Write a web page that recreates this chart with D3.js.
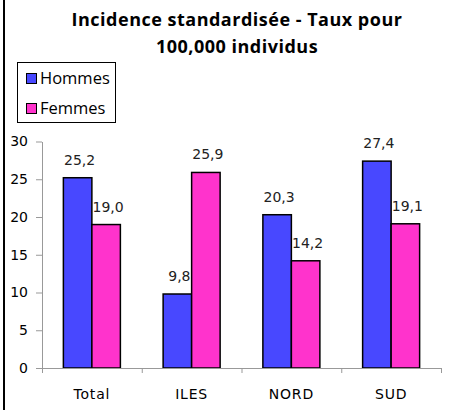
<!DOCTYPE html>
<html>
<head>
<meta charset="utf-8">
<script src="https://cdn.jsdelivr.net/npm/d3@7"></script>
<style>
  body { margin: 0; background: #fff; }
  svg { display: block; }
</style>
</head>
<body>
<div id="wrapper"></div>
<script>
// data
const categories = ["Total", "ILES", "NORD", "SUD"];
const seriesNames = ["Hommes", "Femmes"];
const hommes = [25.2, 9.8, 20.3, 27.4];
const femmes = [19.0, 25.9, 14.2, 19.1];
const yTicks = [0, 5, 10, 15, 20, 25, 30];
const titleLines = ["Incidence standardisée - Taux pour", "100,000 individus"];

const colors = { Hommes: "#4848ff", Femmes: "#ff33cc" };

const dimensions = {
  width: 453,
  height: 410,
  plotLeft: 42,
  plotRight: 441,
  plotTop: 141.5,
  plotBottom: 368,
};

const svg = d3.select("#wrapper").append("svg")
  .attr("width", dimensions.width)
  .attr("height", dimensions.height);

// left frame edge
svg.append("line")
  .attr("x1", 4).attr("x2", 4)
  .attr("y1", 0).attr("y2", dimensions.height)
  .attr("stroke", "#000").attr("stroke-width", 2);

// title
svg.append("g").selectAll("text")
  .data(titleLines)
  .join("text")
  .attr("x", 237)
  .attr("y", (d, i) => 26 + i * 27)
  .attr("text-anchor", "middle")
  .attr("font-family", "'Open Sans', sans-serif")
  .attr("font-weight", "bold")
  .attr("font-size", 18)
  .attr("letter-spacing", 0.5)
  .attr("fill", "#000")
  .text(d => d);

// scales
const xScale = d3.scaleBand()
  .domain(categories)
  .range([dimensions.plotLeft, dimensions.plotRight])
  .padding(0);

const xSub = d3.scaleBand()
  .domain(seriesNames)
  .range([0, xScale.bandwidth()])
  .paddingInner(0)
  .paddingOuter(0.75);

const yScale = d3.scaleLinear()
  .domain([0, 30])
  .range([dimensions.plotBottom, dimensions.plotTop]);

// y axis
const yAxis = svg.append("g")
  .attr("transform", `translate(${dimensions.plotLeft},0)`)
  .call(d3.axisLeft(yScale).tickValues(yTicks).tickSize(6).tickSizeOuter(0).tickPadding(8));
yAxis.select(".domain").attr("stroke", "#999");
yAxis.selectAll(".tick line").attr("stroke", "#999");
yAxis.selectAll(".tick text")
  .attr("font-family", "'DejaVu Sans', sans-serif")
  .attr("font-size", 14)
  .attr("fill", "#000");

// bars
const rows = categories.map((c, i) => ({ category: c, Hommes: hommes[i], Femmes: femmes[i] }));

const groups = svg.append("g").selectAll("g")
  .data(rows)
  .join("g")
  .attr("transform", d => `translate(${xScale(d.category)},0)`);

groups.selectAll("rect")
  .data(d => seriesNames.map(s => ({ key: s, value: d[s] })))
  .join("rect")
  .attr("x", d => xSub(d.key))
  .attr("y", d => yScale(d.value))
  .attr("width", xSub.bandwidth())
  .attr("height", d => yScale(0) - yScale(d.value))
  .attr("fill", d => colors[d.key])
  .attr("stroke", "#000")
  .attr("stroke-width", 1.5);

groups.selectAll("text")
  .data(d => seriesNames.map(s => ({ key: s, value: d[s] })))
  .join("text")
  .attr("x", d => xSub(d.key) + xSub.bandwidth() / 2 + 2)
  .attr("y", d => yScale(d.value) - 13)
  .attr("text-anchor", "middle")
  .attr("font-family", "'DejaVu Sans', sans-serif")
  .attr("font-size", 14)
  .attr("fill", "#222")
  .text(d => d3.format(".1f")(d.value).replace(".", ","));

// x axis with ticks at category boundaries
const xEdges = d3.scaleLinear()
  .domain([0, categories.length])
  .range([dimensions.plotLeft, dimensions.plotRight]);
const xAxis = svg.append("g")
  .attr("transform", `translate(0,${dimensions.plotBottom})`)
  .call(d3.axisBottom(xEdges).tickValues(d3.range(categories.length + 1)).tickFormat("").tickSize(5).tickSizeOuter(0));
xAxis.select(".domain").attr("stroke", "#999");
xAxis.selectAll(".tick line").attr("stroke", "#999");

svg.append("g").selectAll("text")
  .data(categories)
  .join("text")
  .attr("x", d => xScale(d) + xScale.bandwidth() / 2)
  .attr("y", 399)
  .attr("text-anchor", "middle")
  .attr("font-family", "'DejaVu Sans', sans-serif")
  .attr("font-size", 14)
  .attr("letter-spacing", 0.8)
  .attr("fill", "#000")
  .text(d => d);

// legend
const legend = svg.append("g");
legend.append("rect")
  .attr("x", 17.5).attr("y", 62.5)
  .attr("width", 98).attr("height", 60)
  .attr("fill", "#fff")
  .attr("stroke", "#000");

const legendItems = legend.selectAll("g")
  .data(seriesNames)
  .join("g")
  .attr("transform", (d, i) => `translate(0,${i * 30})`);

legendItems.append("rect")
  .attr("x", 26.5).attr("y", 73.5)
  .attr("width", 10).attr("height", 10)
  .attr("fill", d => colors[d])
  .attr("stroke", "#000");

legendItems.append("text")
  .attr("x", 40)
  .attr("y", 84)
  .attr("font-family", "'Open Sans', sans-serif")
  .attr("font-size", 16.5)
  .attr("fill", "#000")
  .text(d => d);
</script>
</body>
</html>
